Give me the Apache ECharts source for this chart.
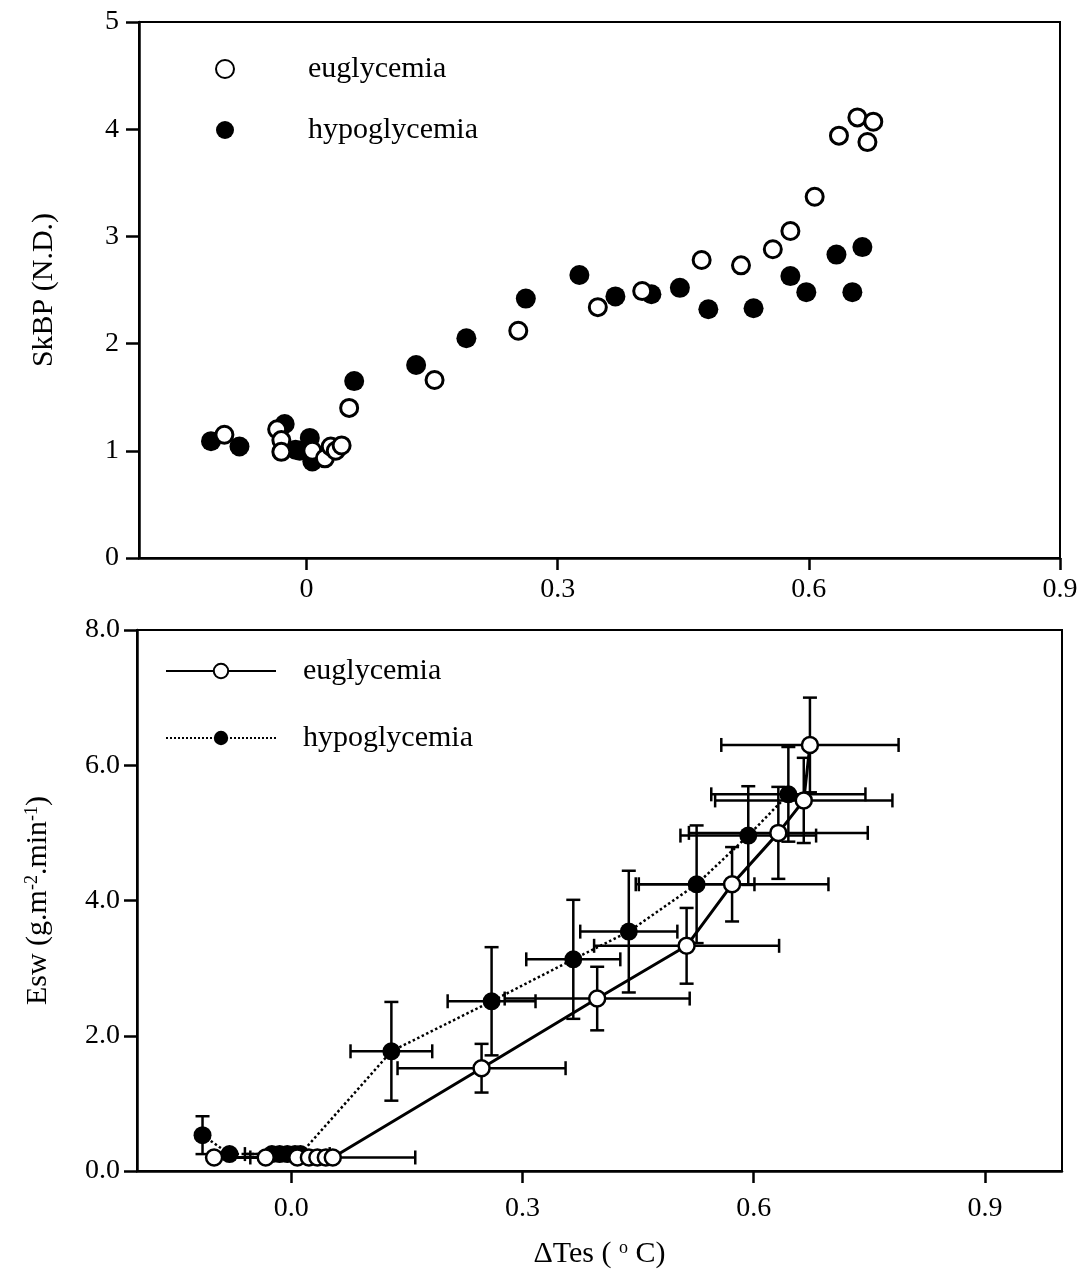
<!DOCTYPE html>
<html>
<head>
<meta charset="utf-8">
<script src="https://cdn.jsdelivr.net/npm/echarts@6/dist/echarts.min.js"></script>
<style>
html,body{margin:0;padding:0;background:#fff;}
#chart{width:1087px;height:1270px;}
</style>
</head>
<body>
<div id="chart"></div>
<script>
// ---------- Top panel: SkBP vs ΔTes (individual points) ----------
const topEuX = [0.658, 0.677, 0.636, 0.670, 0.607, 0.578, 0.557, 0.472, 0.519, 0.401, 0.348, 0.253, 0.153, 0.051, -0.098, -0.035, -0.030, -0.030, 0.007, 0.022, 0.029, 0.035, 0.042];
const topEuY = [4.11, 4.07, 3.94, 3.88, 3.37, 3.05, 2.88, 2.78, 2.73, 2.49, 2.34, 2.12, 1.66, 1.40, 1.15, 1.20, 1.10, 0.99, 1.00, 0.93, 1.04, 1.00, 1.05];
const topHyX = [0.664, 0.633, 0.578, 0.597, 0.652, 0.534, 0.480, 0.446, 0.412, 0.369, 0.326, 0.262, 0.191, 0.131, 0.057, -0.114, -0.080, -0.026, -0.013, 0.004, 0.007, -0.008];
const topHyY = [2.90, 2.83, 2.63, 2.48, 2.48, 2.33, 2.32, 2.52, 2.46, 2.44, 2.64, 2.42, 2.05, 1.80, 1.65, 1.09, 1.04, 1.25, 1.01, 1.12, 0.90, 1.00];
const topXTicks = [0, 0.3, 0.6, 0.9];

// ---------- Bottom panel: Esw vs ΔTes (means ± SD) ----------
const euX    = [-0.100, -0.033, 0.008, 0.023, 0.034, 0.045, 0.054, 0.247, 0.397, 0.513, 0.572, 0.632, 0.665, 0.673];
const euY    = [0.2, 0.2, 0.2, 0.2, 0.2, 0.2, 0.2, 1.52, 2.55, 3.33, 4.24, 5.00, 5.48, 6.30];
const euXErr = [0, 0, 0, 0, 0, 0, 0.107, 0.109, 0.120, 0.120, 0.125, 0.116, 0.115, 0.115];
const euYErr = [0, 0, 0, 0, 0, 0, 0, 0.36, 0.47, 0.56, 0.55, 0.68, 0.63, 0.70];

const hyX    = [-0.115, -0.080, -0.025, -0.015, -0.005, 0.005, 0.012, 0.130, 0.260, 0.366, 0.438, 0.526, 0.593, 0.645];
const hyY    = [0.53, 0.25, 0.25, 0.25, 0.25, 0.25, 0.25, 1.77, 2.51, 3.13, 3.54, 4.24, 4.96, 5.57];
const hyXErr = [0, 0, 0, 0, 0.055, 0, 0, 0.053, 0.057, 0.061, 0.063, 0.075, 0.088, 0.100];
const hyYErr = [0.28, 0, 0, 0, 0, 0, 0, 0.73, 0.80, 0.88, 0.90, 0.87, 0.73, 0.70];
const botXTicks = [0, 0.3, 0.6, 0.9];

const FONT = '"Liberation Serif", "Times New Roman", serif';

function pairs(xs, ys){ return xs.map((x,i)=>[x, ys[i]]); }
function errData(xs, ys, ex, ey){
  return xs.map((x,i)=>[x, ys[i], x-ex[i], x+ex[i], ys[i]-ey[i], ys[i]+ey[i]])
           .filter((d,i)=> ex[i] > 0 || ey[i] > 0);
}
function renderErr(params, api){
  const x = api.value(0), y = api.value(1);
  const xl = api.value(2), xh = api.value(3), yl = api.value(4), yh = api.value(5);
  const cap = 7;
  const st = {stroke:'#000', lineWidth:2.5, fill:null};
  const ch = [];
  if (xh > xl){
    const a = api.coord([xl, y]), b = api.coord([xh, y]);
    ch.push({type:'line', shape:{x1:a[0], y1:a[1], x2:b[0], y2:b[1]}, style:st});
    ch.push({type:'line', shape:{x1:a[0], y1:a[1]-cap, x2:a[0], y2:a[1]+cap}, style:st});
    ch.push({type:'line', shape:{x1:b[0], y1:b[1]-cap, x2:b[0], y2:b[1]+cap}, style:st});
  }
  if (yh > yl){
    const a = api.coord([x, yl]), b = api.coord([x, yh]);
    ch.push({type:'line', shape:{x1:a[0], y1:a[1], x2:b[0], y2:b[1]}, style:st});
    ch.push({type:'line', shape:{x1:a[0]-cap, y1:a[1], x2:a[0]+cap, y2:a[1]}, style:st});
    ch.push({type:'line', shape:{x1:b[0]-cap, y1:b[1], x2:b[0]+cap, y2:b[1]}, style:st});
  }
  return {type:'group', children:ch};
}

const tickLine = {color:'#000', width:2.5};
const labelBase = {color:'#000', fontFamily:FONT, fontSize:28};

const chart = echarts.init(document.getElementById('chart'), null, {renderer:'canvas'});
chart.setOption({
  animation:false,
  backgroundColor:'#fff',
  grid:[
    {left:139, right:27, top:22, bottom:712, show:true, borderColor:'#000', borderWidth:2, backgroundColor:'transparent'},
    {left:137, right:25, top:630, bottom:96, show:true, borderColor:'#000', borderWidth:2, backgroundColor:'transparent'}
  ],
  legend:[
    {
      left:210, top:49, orient:'vertical', itemGap:31, itemWidth:18, itemHeight:18,
      selectedMode:false,
      data:['euglycemia','hypoglycemia'],
      textStyle:{color:'#000', fontFamily:FONT, fontSize:30, padding:[0,0,0,69]}
    },
    {
      left:160, top:651, orient:'vertical', itemGap:37, itemWidth:110, itemHeight:18,
      selectedMode:false,
      data:['euglycemia ','hypoglycemia '],
      formatter:function(n){return n.trim();},
      textStyle:{color:'#000', fontFamily:FONT, fontSize:30, padding:[0,0,0,22]}
    }
  ],
  xAxis:[
    {
      type:'value', gridIndex:0, min:-0.2, max:0.9,
      splitLine:{show:false}, axisLine:{onZero:false, lineStyle:tickLine},
      axisTick:{show:true, length:12, inside:false, customValues:topXTicks, lineStyle:tickLine},
      axisLabel:Object.assign({margin:18, customValues:topXTicks, formatter:function(v){return v===0?'0':v.toFixed(1);}}, labelBase)
    },
    {
      type:'value', gridIndex:1, min:-0.2, max:1.0,
      splitLine:{show:false}, axisLine:{onZero:false, lineStyle:tickLine},
      axisTick:{show:true, length:12, inside:false, customValues:botXTicks, lineStyle:tickLine},
      axisLabel:Object.assign({margin:24, customValues:botXTicks, formatter:function(v){return v.toFixed(1);}}, labelBase),
      name:'ΔTes ( {sup|o} C)', nameLocation:'middle', nameGap:68,
      nameTextStyle:{color:'#000', fontFamily:FONT, fontSize:30,
        rich:{sup:{fontFamily:FONT, fontSize:18, verticalAlign:'top', color:'#000'}}}
    }
  ],
  yAxis:[
    {
      type:'value', gridIndex:0, min:0, max:5, interval:1,
      splitLine:{show:false}, axisLine:{onZero:false, lineStyle:tickLine},
      axisTick:{show:true, length:13, lineStyle:tickLine},
      axisLabel:Object.assign({margin:20}, labelBase),
      name:'SkBP (N.D.)', nameLocation:'middle', nameGap:80, nameRotate:90,
      nameTextStyle:{color:'#000', fontFamily:FONT, fontSize:30}
    },
    {
      type:'value', gridIndex:1, min:0, max:8, interval:2,
      splitLine:{show:false}, axisLine:{onZero:false, lineStyle:tickLine},
      axisTick:{show:true, length:13, lineStyle:tickLine},
      axisLabel:Object.assign({margin:17, formatter:function(v){return v.toFixed(1);}}, labelBase),
      name:'Esw (g.m{sup|-2}.min{sup|-1})', nameLocation:'middle', nameGap:84, nameRotate:90,
      nameTextStyle:{color:'#000', fontFamily:FONT, fontSize:30,
        rich:{sup:{fontFamily:FONT, fontSize:18, verticalAlign:'top', color:'#000'}}}
    }
  ],
  series:[
    {
      name:'hypoglycemia', type:'scatter', xAxisIndex:0, yAxisIndex:0,
      data:pairs(topHyX, topHyY), symbol:'circle', symbolSize:20,
      itemStyle:{color:'#000', borderColor:'#000', borderWidth:0, opacity:1}, z:3
    },
    {
      name:'euglycemia', type:'scatter', xAxisIndex:0, yAxisIndex:0,
      data:pairs(topEuX, topEuY), symbol:'circle', symbolSize:17,
      itemStyle:{color:'#fff', borderColor:'#000', borderWidth:3, opacity:1}, z:4
    },
    {
      name:'hypo SD', type:'custom', xAxisIndex:1, yAxisIndex:1,
      data:errData(hyX, hyY, hyXErr, hyYErr), renderItem:renderErr, z:1, silent:true
    },
    {
      name:'eu SD', type:'custom', xAxisIndex:1, yAxisIndex:1,
      data:errData(euX, euY, euXErr, euYErr), renderItem:renderErr, z:1, silent:true
    },
    {
      name:'hypoglycemia ', type:'line', xAxisIndex:1, yAxisIndex:1,
      data:pairs(hyX, hyY), symbol:'circle', symbolSize:18, showAllSymbol:true,
      lineStyle:{color:'#000', width:2.5, type:'dotted'},
      itemStyle:{color:'#000', borderColor:'#000', borderWidth:0, opacity:1}, z:3
    },
    {
      name:'euglycemia ', type:'line', xAxisIndex:1, yAxisIndex:1,
      data:pairs(euX, euY), symbol:'circle', symbolSize:16, showAllSymbol:true,
      lineStyle:{color:'#000', width:3, type:'solid'},
      itemStyle:{color:'#fff', borderColor:'#000', borderWidth:2.5, opacity:1}, z:4
    }
  ]
});
</script>
</body>
</html>
